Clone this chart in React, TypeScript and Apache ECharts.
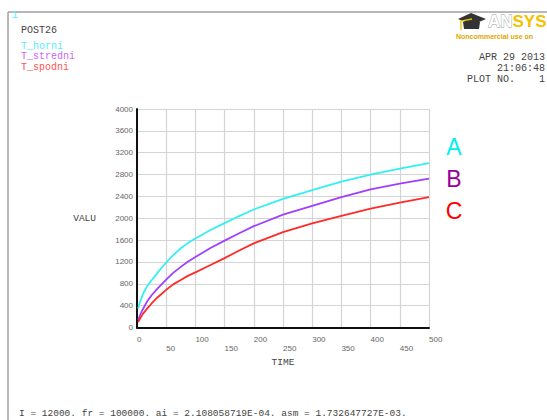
import React, { useEffect, useRef } from "react";
import * as echarts from "echarts";

// POST26 time-history: three temperature variables vs TIME
const timeValues = [2, 5, 10, 17, 25, 35, 50, 62, 75, 87, 100, 125, 150, 175, 200, 250, 300, 350, 400, 450, 500];
const tHorni = [350, 460, 610, 750, 865, 1000, 1190, 1325, 1450, 1545, 1630, 1780, 1910, 2040, 2160, 2355, 2515, 2670, 2800, 2910, 3010];
const tStredni = [140, 220, 335, 470, 590, 710, 875, 1000, 1110, 1205, 1290, 1450, 1590, 1725, 1855, 2065, 2225, 2385, 2530, 2635, 2725];
const tSpodni = [100, 160, 250, 340, 440, 550, 690, 790, 870, 945, 1010, 1140, 1270, 1410, 1540, 1745, 1905, 2045, 2175, 2285, 2385];

const seriesNames = ["T_horni", "T_stredni", "T_spodni"];
const seriesColors = ["#33f0f0", "#a040ff", "#ff2a2a"];
const legendColors = ["#55eeff", "#cc66ff", "#ff5555"];
const sideLabels = ["A", "B", "C"];
const sideLabelColors = ["#00f0f0", "#990099", "#ff0000"];

const yTicks = { min: 0, max: 4000, interval: 400 };
const xTicks = { min: 0, max: 500, interval: 50 };

const headerLines = ["APR 29 2013", "21:06:48", "PLOT NO.    1"];
const footerText =
  "I = 12000. fr = 100000. ai = 2.108058719E-04. asm = 1.732647727E-03.";

const MONO = "'Liberation Mono', 'DejaVu Sans Mono', monospace";
const SANS = "'Liberation Sans', Arial, sans-serif";

export default function App() {
  const ref = useRef<HTMLDivElement>(null);

  useEffect(() => {
    if (!ref.current) return;
    const chart = echarts.init(ref.current, null, { renderer: "svg" });

    const pairs = (vals: number[]) => timeValues.map((t, i) => [t, vals[i]]);
    const seriesData = [tHorni, tStredni, tSpodni];

    const graphic: any[] = [
      // frame lines
      { type: "line", shape: { x1: 8, y1: 12, x2: 547, y2: 12 }, style: { stroke: "#a0a0a0", lineWidth: 1.5 } },
      { type: "line", shape: { x1: 8, y1: 12, x2: 8, y2: 420 }, style: { stroke: "#a0a0a0", lineWidth: 1.5 } },
      // window number and title
      { type: "text", x: 12, y: 15, style: { text: "1", fill: "#55eeff", font: `10px ${MONO}`, verticalAlign: "middle" } },
      { type: "text", x: 21, y: 30, style: { text: "POST26", fill: "#444", font: `10px ${MONO}`, verticalAlign: "middle" } },
      // variable list
      ...seriesNames.map((n, i) => ({
        type: "text",
        x: 21,
        y: 46 + i * 10.7,
        style: { text: n, fill: legendColors[i], font: `10px ${MONO}`, verticalAlign: "middle" },
      })),
      // date / time block
      ...headerLines.map((s, i) => ({
        type: "text",
        x: 545,
        y: 57.5 + i * 11,
        style: { text: s, fill: "#444", font: `10px ${MONO}`, align: "right", verticalAlign: "middle" },
      })),
      // logo: mortarboard
      { type: "polygon", shape: { points: [[458, 19], [471, 13], [486, 19], [472, 25]] }, style: { fill: "#333" } },
      { type: "polygon", shape: { points: [[463, 22], [480, 22], [479, 29], [464, 29]] }, style: { fill: "#333" } },
      { type: "polyline", shape: { points: [[472, 19], [461, 21], [461, 30]] }, style: { stroke: "#e8c000", lineWidth: 1.3, fill: "none" } },
      // logo wordmark
      { type: "text", x: 488, y: 21, style: { text: "AN", fill: "#fff", stroke: "#999", lineWidth: 0.8, font: `bold 17px ${SANS}`, verticalAlign: "middle" } },
      { type: "text", x: 512.5, y: 21, style: { text: "SYS", fill: "#f2c200", font: `bold 17px ${SANS}`, verticalAlign: "middle" } },
      { type: "text", x: 456, y: 36, style: { text: "Noncommercial use on", fill: "#e0a800", font: `bold 7px ${SANS}`, verticalAlign: "middle" } },
      // curve identifiers
      ...sideLabels.map((s, i) => ({
        type: "text",
        x: 454,
        y: 147 + i * 32,
        style: { text: s, fill: sideLabelColors[i], font: `23px ${SANS}`, align: "center", verticalAlign: "middle" },
      })),
      // footer
      { type: "text", x: 19, y: 413, style: { text: footerText, fill: "#444", font: `9.5px ${MONO}`, verticalAlign: "middle" } },
    ];

    chart.setOption({
      animation: false,
      backgroundColor: "#ffffff",
      grid: { left: 137, right: 118, top: 109, bottom: 92.5, containLabel: false },
      xAxis: {
        type: "value",
        min: xTicks.min,
        max: xTicks.max,
        interval: xTicks.interval,
        name: "TIME",
        nameLocation: "middle",
        nameGap: 29,
        nameTextStyle: { color: "#444", fontSize: 9.5, fontFamily: MONO, fontWeight: "normal" },
        axisLine: { show: true, onZero: false, lineStyle: { color: "#111", width: 2 } },
        axisTick: { show: false },
        axisLabel: {
          color: "#666",
          fontSize: 8,
          fontFamily: SANS,
          align: "left",
          margin: 7,
          lineHeight: 9,
          showMaxLabel: true,
          showMinLabel: true,
          formatter: (v: number) => ((v / 50) % 2 === 1 ? "\n" + v : String(v)),
        },
        splitLine: { show: true, lineStyle: { color: "#d4d4d4", width: 1.2 } },
      },
      yAxis: {
        type: "value",
        min: yTicks.min,
        max: yTicks.max,
        interval: yTicks.interval,
        name: "VALU",
        nameLocation: "middle",
        nameRotate: 0,
        nameGap: 41,
        nameTextStyle: { color: "#444", fontSize: 9.5, fontFamily: MONO, fontWeight: "normal", align: "right" },
        axisLine: { show: true, onZero: false, lineStyle: { color: "#111", width: 2 } },
        axisTick: { show: false },
        axisLabel: { color: "#666", fontSize: 8, fontFamily: SANS, margin: 4, formatter: (v: number) => String(v) },
        splitLine: { show: true, lineStyle: { color: "#d4d4d4", width: 1.2 } },
      },
      series: seriesNames.map((n, i) => ({
        name: n,
        type: "line",
        data: pairs(seriesData[i]),
        showSymbol: false,
        smooth: false,
        lineStyle: { color: seriesColors[i], width: 1.8, join: "round" },
        itemStyle: { color: seriesColors[i] },
      })),
      graphic,
    });

    return () => chart.dispose();
  }, []);

  return (
    <div
      ref={ref}
      style={{ position: "absolute", left: 0, top: 0, width: 547, height: 420, background: "#fff" }}
    />
  );
}
